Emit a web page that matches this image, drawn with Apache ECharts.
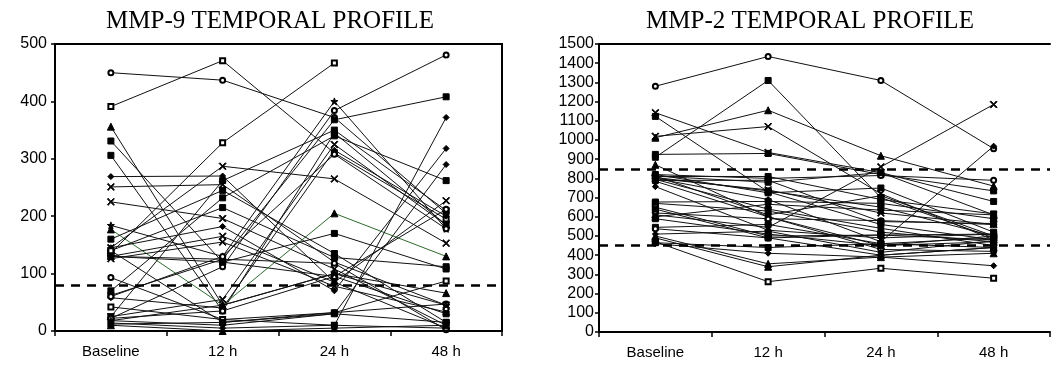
<!DOCTYPE html>
<html>
<head>
<meta charset="utf-8">
<script src="https://cdn.jsdelivr.net/npm/echarts@6/dist/echarts.min.js"></script>
<style>
html,body{margin:0;padding:0;background:#fff;}
#chart{width:1054px;height:367px;}
</style>
</head>
<body>
<div id="chart"></div>
<script>
const categories = ['Baseline', '12 h', '24 h', '48 h'];
const titles = ['MMP-9 TEMPORAL PROFILE', 'MMP-2 TEMPORAL PROFILE'];
const mmp9Ticks = [0, 500, 100];
const mmp2Ticks = [0, 1500, 100];
const mmp9Cutoff = [80];
const mmp2Cutoff = [850, 450];

// MMP-9 subjects: [Baseline, 12 h, 24 h, 48 h]
const mmp9 = [
  [450, 437, 372, 205],
  [391, 471, 310, 195],
  [356, 45, 100, 66],
  [331, 120, 95, 30],
  [306, 35, 345, 185],
  [269, 270, 85, 5],
  [251, 255, 120, 45],
  [225, 196, 108, 10],
  [184, 130, 400, 178],
  [177, 45, 205, 130],
  [160, 245, 135, 15],
  [145, 287, 265, 153],
  [140, 215, 128, 112],
  [136, 328, 467, null],
  [130, 125, 118, 2],
  [126, 155, 78, 33],
  [93, 20, 32, 47],
  [70, 232, 340, 262],
  [62, 125, 368, 408],
  [58, 40, 315, 200],
  [42, 20, 10, 5],
  [25, 262, 350, 210],
  [22, 112, 384, 481],
  [18, 10, 30, 290],
  [14, 5, 10, 372],
  [10, 0, 5, 10],
  [25, 55, 325, 185],
  [145, 182, 70, 318],
  [130, 165, 85, 227],
  [140, 15, 32, 87],
  [130, 120, 170, 108],
  [22, 35, 95, 212],
  [60, 130, 308, 178],
  [18, 45, 100, 45],
  [12, 15, 30, 15]
];
const mmp9Symbols = ['emptyCircle','emptyRect','triangle','rect','rect','diamond','x','x','star','triangle',
  'rect','x','rect','emptyRect','emptyCircle','x','emptyCircle','rect','rect','diamond',
  'emptyRect','rect','emptyCircle','diamond','diamond','triangle','x','diamond','x','emptyRect',
  'rect','emptyCircle','emptyCircle','star','rect'];
const mmp9Green = [9];

// MMP-2 subjects: [Baseline, 12 h, 24 h, 48 h]
const mmp2 = [
  [1280, 1435, 1310, 955],
  [1142, 935, 830, 610],
  [1123, 730, 560, 480],
  [1019, 1070, 720, 480],
  [1012, 1155, 918, 760],
  [925, 930, 820, 735],
  [910, 1310, 700, 490],
  [871, 600, 450, 470],
  [820, 800, 815, 790],
  [812, 780, 830, 680],
  [805, 735, 650, 500],
  [800, 690, 470, 968],
  [795, 640, 540, 450],
  [785, 600, 430, 420],
  [757, 530, 490, 510],
  [810, 810, 690, 615],
  [800, 740, 620, 560],
  [677, 680, 670, 590],
  [670, 630, 520, 470],
  [650, 500, 505, 480],
  [620, 590, 580, 560],
  [610, 545, 860, 1185],
  [600, 665, 635, 610],
  [590, 510, 450, 500],
  [545, 560, 460, 440],
  [538, 490, 400, 440],
  [510, 525, 415, 475],
  [500, 355, 390, 410],
  [490, 340, 400, 440],
  [470, 262, 332, 280],
  [460, 410, 390, 345],
  [465, 440, 460, 490],
  [820, 725, 750, 520],
  [812, 610, 710, 500],
  [790, 790, 575, 565],
  [640, 490, 505, 510]
];
const mmp2Symbols = ['emptyCircle','x','rect','x','triangle','rect','rect','triangle','emptyCircle','rect',
  'rect','diamond','diamond','emptyCircle','diamond','rect','x','rect','rect','emptyRect',
  'emptyCircle','x','triangle','rect','rect','emptyCircle','diamond','triangle','triangle','emptyRect',
  'diamond','rect','rect','star','rect','rect'];

const shapes = {
  x: 'path://M0,1L1,0L5,4L9,0L10,1L6,5L10,9L9,10L5,6L1,10L0,9L4,5Z',
  star: 'path://M5,0L6.2,3.6L10,3.8L7,6.1L8.1,10L5,7.7L1.9,10L3,6.1L0,3.8L3.8,3.6Z'
};
function sym(name) { return shapes[name] || name; }
function symSize(name) {
  if (name === 'rect') return 6;
  if (name === 'triangle') return 7;
  if (name === 'diamond') return 6;
  if (name === 'x' || name === 'star') return 7;
  return 5;
}

const xFont = { fontFamily: 'Liberation Sans, Arial, sans-serif', fontSize: 15, color: '#000' };
const yFont = { fontFamily: 'Liberation Sans, Arial, sans-serif', fontSize: 16, color: '#000' };
const titleFont = { fontFamily: 'Liberation Serif, Times New Roman, serif', fontWeight: 'normal', fontSize: 25, color: '#000' };

function buildSeries(rows, symbols, idx, greens, cutoffs) {
  return rows.map((r, i) => {
    const green = greens.indexOf(i) >= 0;
    const s = {
      type: 'line',
      xAxisIndex: idx,
      yAxisIndex: idx,
      data: r,
      symbol: sym(symbols[i]),
      symbolSize: symSize(symbols[i]),
      showAllSymbol: true,
      connectNulls: false,
      silent: true,
      animation: false,
      lineStyle: { color: green ? '#2f6b2f' : '#111', width: 1 },
      itemStyle: { color: '#000', borderColor: '#000', borderWidth: 1 },
      z: 3
    };
    if (i === 0) {
      s.markLine = {
        silent: true,
        symbol: 'none',
        label: { show: false },
        animation: false,
        lineStyle: { color: '#000', type: [9, 7], width: 2.5 },
        data: cutoffs.map(v => ({ yAxis: v }))
      };
    }
    return s;
  });
}

const plain = v => String(v);

const chart = echarts.init(document.getElementById('chart'), null, { renderer: 'canvas' });
chart.setOption({
  backgroundColor: '#fff',
  animation: false,
  title: [
    { text: titles[0], left: 265, top: 4, textAlign: 'center', textStyle: titleFont },
    { text: titles[1], left: 805, top: 4, textAlign: 'center', textStyle: titleFont }
  ],
  grid: [
    { left: 55, top: 44, width: 447, height: 287, show: true, borderColor: '#000', borderWidth: 2, backgroundColor: 'transparent' },
    { left: 599, top: 44, width: 451, height: 288 }
  ],
  xAxis: [
    { type: 'category', gridIndex: 0, data: categories, boundaryGap: true,
      axisLine: { lineStyle: { color: '#000', width: 2 } },
      axisTick: { show: true, length: 5, lineStyle: { color: '#000', width: 1.5 } },
      axisLabel: Object.assign({ margin: 13 }, xFont), splitLine: { show: false } },
    { type: 'category', gridIndex: 1, data: categories, boundaryGap: true,
      axisLine: { lineStyle: { color: '#000', width: 2 } },
      axisTick: { show: true, length: 5, lineStyle: { color: '#000', width: 1.5 } },
      axisLabel: Object.assign({ margin: 13 }, xFont), splitLine: { show: false } },
    { type: 'category', gridIndex: 1, position: 'top', data: categories,
      axisLine: { show: true, lineStyle: { color: '#000', width: 2 } },
      axisTick: { show: false }, axisLabel: { show: false }, splitLine: { show: false } }
  ],
  yAxis: [
    { type: 'value', gridIndex: 0, min: mmp9Ticks[0], max: mmp9Ticks[1], interval: mmp9Ticks[2],
      axisLine: { show: true, lineStyle: { color: '#000', width: 2 } },
      axisTick: { show: true, length: 4, lineStyle: { color: '#000', width: 1.5 } },
      axisLabel: Object.assign({ margin: 8, formatter: plain }, yFont), splitLine: { show: false } },
    { type: 'value', gridIndex: 1, min: mmp2Ticks[0], max: mmp2Ticks[1], interval: mmp2Ticks[2],
      axisLine: { show: true, lineStyle: { color: '#000', width: 2 } },
      axisTick: { show: true, length: 4, lineStyle: { color: '#000', width: 1.5 } },
      axisLabel: Object.assign({ margin: 5, formatter: plain }, yFont), splitLine: { show: false } }
  ],
  series: buildSeries(mmp9, mmp9Symbols, 0, mmp9Green, mmp9Cutoff)
    .concat(buildSeries(mmp2, mmp2Symbols, 1, [], mmp2Cutoff))
});
</script>
</body>
</html>
